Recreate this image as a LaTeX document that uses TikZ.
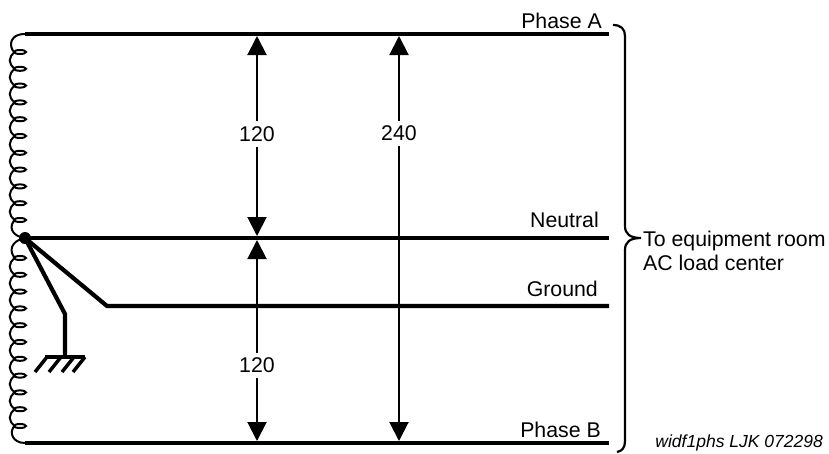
\documentclass[tikz,border=0pt]{standalone}
\usepackage{xcolor}
\usepackage{fontspec}
\setmainfont{Liberation Sans}
\usetikzlibrary{arrows.meta}

\tikzset{
  wire/.style={line width=4.2pt},
  dim/.style={line width=2pt,{Triangle[length=19pt,width=19pt]}-{Triangle[length=19pt,width=19pt]}},
  lbl/.style={font=\fontsize{21.3}{24}\selectfont,inner sep=0pt},
  coil/.style={line width=2pt}
}

\begin{document}
\begin{tikzpicture}[x=1pt,y=-1pt]
          \useasboundingbox (0,0) rectangle (829,453);
          %wires
          \coordinate (aw) at (25,34);
          \coordinate (ae) at (609,34);
          \coordinate (nw) at (25,238);
          \coordinate (ne) at (609,238);
          \coordinate (gk) at (107,306);
          \coordinate (ge) at (609,306);
          \coordinate (bw) at (25,443);
          \coordinate (be) at (609,443);
          \coordinate (sk) at (65,314);
          \coordinate (sb) at (65,357);
          \draw[wire] (aw) -- (ae);
          \draw[wire] (nw) -- (ne);
          \draw[wire] (nw) -- (gk) -- (ge);
          \draw[wire] (bw) -- (be);
          \draw[wire] (nw) -- (sk) -- (sb);
          \fill (nw) circle (6);

          %transformer coil
          \draw[coil] (aw) .. controls (14,34) and (11,40) .. (11,44) .. controls (11,48) and (13,52) .. (15,52);
          \foreach \y in {52,68.8,85.6,102.4,119.2,136,152.8,169.6,186.4,203.2,220}{
            \draw[coil] (20,\y) ellipse (6 and 2);
          }
          \foreach \y in {52,68.8,85.6,102.4,119.2,136,152.8,169.6,186.4,203.2}{
            \draw[coil] (15,\y) .. controls (8,\y+5) and (8,\y+12) .. (15,\y+16.8);
          }
          \draw[coil] (15,220) .. controls (9,225) and (10,236) .. (nw);
          \draw[coil] (nw) .. controls (10,241) and (9,252) .. (15,258);
          \foreach \y in {258,274.8,291.6,308.4,325.2,342,358.8,375.6,392.4,409.2,426}{
            \draw[coil] (20,\y) ellipse (6 and 2);
          }
          \foreach \y in {258,274.8,291.6,308.4,325.2,342,358.8,375.6,392.4,409.2}{
            \draw[coil] (15,\y) .. controls (8,\y+5) and (8,\y+12) .. (15,\y+16.8);
          }
          \draw[coil] (15,426) .. controls (9,430) and (11,443) .. (bw);

          %ground symbol
          \draw[line width=3.5pt] (45,357) -- (sb) -- (85,357);
          \foreach \x in {47,61,74,85}{
            \draw[line width=3.5pt] (\x,357) -- (\x-12,372);
          }

          %voltage arrows
          \coordinate (ut) at (257,36);
          \coordinate (ub) at (257,236);
          \coordinate (lt) at (257,240);
          \coordinate (lb) at (257,441);
          \coordinate (ft) at (399,36);
          \coordinate (fb) at (399,441);
          \draw[dim] (ut) -- (ub) node[midway,lbl,fill=white,inner ysep=5pt,inner xsep=3pt,yshift=2pt] (upper) {120};
          \draw[dim] (lt) -- (lb) node[pos=0.62,lbl,fill=white,inner ysep=5pt,inner xsep=3pt,yshift=-1pt] (lower) {120};
          \draw[dim] (ft) -- (fb) node[pos=0.24,lbl,fill=white,inner ysep=5pt,inner xsep=3pt] (full) {240};

          %labels
          \node[lbl,anchor=base east] (phasea) at (602,28) {Phase A};
          \node[lbl,anchor=base east] (neutral) at (599,227) {Neutral};
          \node[lbl,anchor=base east] (ground) at (598,296) {Ground};
          \node[lbl,anchor=base east] (phaseb) at (601,437) {Phase B};
          \node[lbl,anchor=base west] (room) at (643,246) {To equipment room};
          \node[lbl,anchor=base west] (center) at (643,270) {AC load center};
          \node[lbl,anchor=base east,font=\fontsize{17.5}{20}\selectfont\itshape] (tag) at (823,447) {widf1phs LJK 072298};

          %brace
          \draw[line width=2.2pt] (613,25) .. controls (621,25) and (625,29) .. (625,36)
            -- (625,226) .. controls (625,234) and (630,238) .. (641,238)
            .. controls (630,238) and (625,242) .. (625,250)
            -- (625,441) .. controls (625,448) and (622,451) .. (617,452);
          \end{tikzpicture}
\end{document}
